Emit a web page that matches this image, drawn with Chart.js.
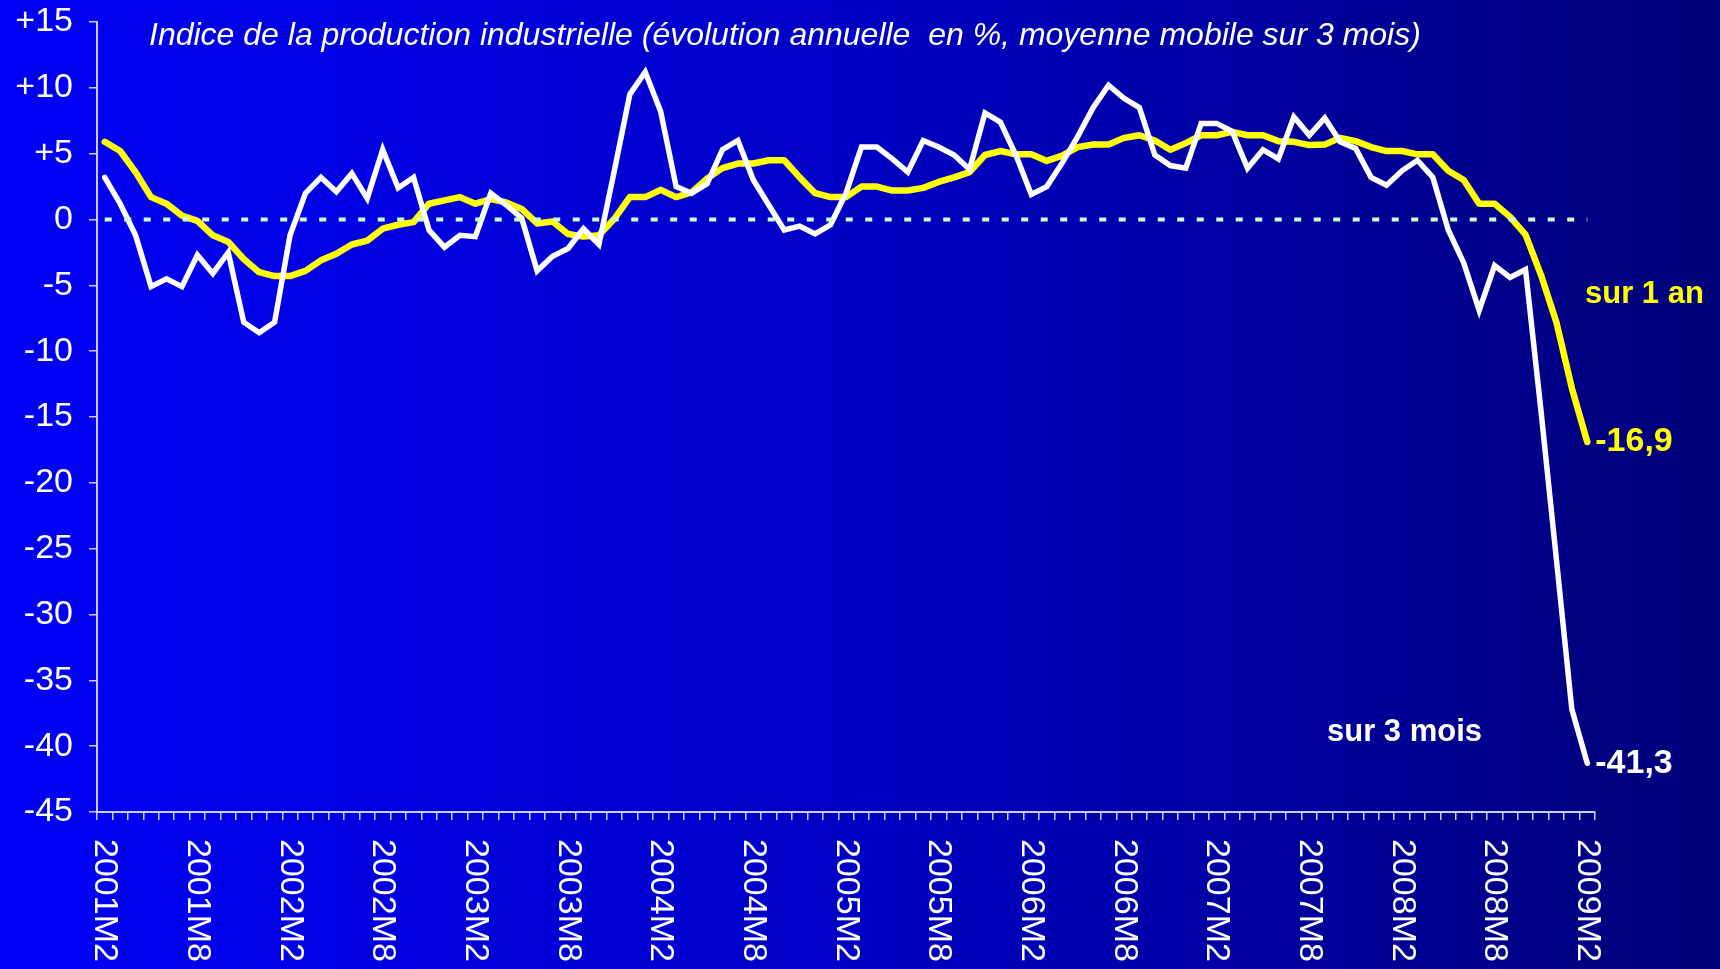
<!DOCTYPE html>
<html>
<head>
<meta charset="utf-8">
<script src="https://cdn.jsdelivr.net/npm/chart.js@4.4.1/dist/chart.umd.min.js"></script>
<style>
  html, body { margin: 0; padding: 0; background: #00007a; }
  #wrap { width: 1720px; height: 969px; }
</style>
</head>
<body>
<div id="wrap"><canvas id="prodChart"></canvas></div>
<script>
var months = [
  '2001M2','2001M3','2001M4','2001M5','2001M6','2001M7','2001M8','2001M9','2001M10','2001M11','2001M12',
  '2002M1','2002M2','2002M3','2002M4','2002M5','2002M6','2002M7','2002M8','2002M9','2002M10','2002M11','2002M12',
  '2003M1','2003M2','2003M3','2003M4','2003M5','2003M6','2003M7','2003M8','2003M9','2003M10','2003M11','2003M12',
  '2004M1','2004M2','2004M3','2004M4','2004M5','2004M6','2004M7','2004M8','2004M9','2004M10','2004M11','2004M12',
  '2005M1','2005M2','2005M3','2005M4','2005M5','2005M6','2005M7','2005M8','2005M9','2005M10','2005M11','2005M12',
  '2006M1','2006M2','2006M3','2006M4','2006M5','2006M6','2006M7','2006M8','2006M9','2006M10','2006M11','2006M12',
  '2007M1','2007M2','2007M3','2007M4','2007M5','2007M6','2007M7','2007M8','2007M9','2007M10','2007M11','2007M12',
  '2008M1','2008M2','2008M3','2008M4','2008M5','2008M6','2008M7','2008M8','2008M9','2008M10','2008M11','2008M12',
  '2009M1','2009M2'
];

// moyenne mobile sur 3 mois, glissement sur 3 mois (ligne blanche)
var sur3Mois = [
  3.2, 1.2, -1.2, -5.1, -4.5, -5.1, -2.7, -4.1, -2.5, -7.8, -8.6,
  -7.8, -1.2, 2.0, 3.2, 2.1, 3.5, 1.6, 5.3, 2.4, 3.2, -0.8, -2.1,
  -1.2, -1.3, 2.0, 1.1, 0.1, -3.9, -2.8, -2.2, -0.7, -1.9, 3.7, 9.5,
  11.2, 8.2, 2.5, 2.0, 2.7, 5.3, 6.0, 3.0, 1.1, -0.8, -0.5, -1.1,
  -0.4, 2.0, 5.5, 5.5, 4.6, 3.6, 6.0, 5.5, 4.9, 3.8, 8.1, 7.4,
  4.9, 1.9, 2.5, 4.3, 6.3, 8.5, 10.2, 9.2, 8.5, 4.9, 4.1, 3.9,
  7.3, 7.3, 6.7, 3.9, 5.3, 4.6, 7.8, 6.4, 7.7, 5.9, 5.4, 3.2,
  2.6, 3.7, 4.5, 3.2, -0.8, -3.3, -6.9, -3.5, -4.4, -3.8, -14.5, -25.8,
  -37.2, -41.3
];

// glissement annuel (ligne jaune)
var sur1An = [
  5.9, 5.2, 3.6, 1.7, 1.2, 0.3, -0.1, -1.2, -1.7, -3.0, -4.0,
  -4.3, -4.3, -3.9, -3.1, -2.6, -1.9, -1.6, -0.7, -0.4, -0.2, 1.2, 1.45,
  1.7, 1.2, 1.55, 1.3, 0.8, -0.3, -0.15, -1.1, -1.3, -1.2, 0.05, 1.7,
  1.7, 2.25, 1.7, 2.05, 3.1, 3.9, 4.25, 4.25, 4.5, 4.5, 3.2, 2.0,
  1.7, 1.7, 2.5, 2.5, 2.2, 2.2, 2.4, 2.85, 3.2, 3.6, 4.9, 5.2,
  4.95, 4.95, 4.45, 4.85, 5.5, 5.7, 5.7, 6.2, 6.4, 6.0, 5.3, 5.8,
  6.4, 6.4, 6.65, 6.4, 6.4, 5.95, 5.9, 5.65, 5.7, 6.2, 5.95, 5.5,
  5.2, 5.2, 4.95, 4.95, 3.7, 3.0, 1.2, 1.2, 0.2, -1.15, -4.2, -7.8,
  -12.8, -16.9
];

var yTicks = { min: -45, max: 15, step: 5 };
var titleText = 'Indice de la production industrielle (évolution annuelle  en %, moyenne mobile sur 3 mois)';
var fontFamily = '"Liberation Sans", Arial, sans-serif';
var axisColor = 'rgba(215,215,255,0.95)';

function fmt(v) {
  return v.toFixed(1).replace('.', ',');
}

var decorPlugin = {
  id: 'decor',
  beforeDraw: function (chart) {
    var ctx = chart.ctx;
    var g = ctx.createLinearGradient(0, 0, chart.width, 0);
    g.addColorStop(0, '#0000f8');
    g.addColorStop(0.5, '#0000c4');
    g.addColorStop(1, '#000078');
    ctx.save();
    ctx.fillStyle = g;
    ctx.fillRect(0, 0, chart.width, chart.height);
    ctx.restore();
  },
  afterDatasetsDraw: function (chart) {
    // ligne du zéro en pointillés
    var ctx = chart.ctx;
    var xs = chart.scales.x, ys = chart.scales.y;
    var y0 = ys.getPixelForValue(0);
    ctx.save();
    ctx.strokeStyle = '#ccffcc';
    ctx.lineWidth = 4;
    ctx.setLineDash([7, 12.5]);
    ctx.beginPath();
    ctx.moveTo(xs.getPixelForValue(0), y0);
    ctx.lineTo(xs.getPixelForValue(months.length - 1), y0);
    ctx.stroke();
    ctx.restore();
  },
  afterDraw: function (chart) {
    var ctx = chart.ctx;
    var xs = chart.scales.x, ys = chart.scales.y;
    var last = months.length - 1;
    ctx.save();

    // titre
    ctx.fillStyle = '#ffffff';
    ctx.font = 'italic 32px ' + fontFamily;
    ctx.textAlign = 'left';
    ctx.textBaseline = 'middle';
    ctx.fillText(titleText, 149, 36);

    // étiquettes de l'axe des x, tournées vers le bas
    ctx.font = '34px ' + fontFamily;
    for (var i = 0; i < months.length; i += 6) {
      ctx.save();
      ctx.translate(xs.getPixelForValue(i), xs.bottom + 19);
      ctx.rotate(Math.PI / 2);
      ctx.textAlign = 'left';
      ctx.textBaseline = 'middle';
      ctx.fillText(months[i], 0, 0);
      ctx.restore();
    }

    // dernières valeurs
    ctx.font = 'bold 34px ' + fontFamily;
    ctx.textAlign = 'left';
    ctx.textBaseline = 'middle';
    ctx.fillStyle = '#ffff00';
    ctx.fillText(fmt(sur1An[last]), xs.getPixelForValue(last) + 8, ys.getPixelForValue(sur1An[last]));
    ctx.fillStyle = '#ffffff';
    ctx.fillText(fmt(sur3Mois[last]), xs.getPixelForValue(last) + 8, ys.getPixelForValue(sur3Mois[last]));

    // noms des séries
    ctx.font = 'bold 31px ' + fontFamily;
    ctx.fillStyle = '#ffff00';
    ctx.fillText('sur 1 an', 1585, 294);
    ctx.fillStyle = '#ffffff';
    ctx.fillText('sur 3 mois', 1327, 732);
    ctx.restore();
  }
};

var ctx = document.getElementById('prodChart').getContext('2d');

var prodChart = new Chart(ctx, {
  type: 'line',
  data: {
    labels: months,
    datasets: [
      {
        label: 'sur 1 an',
        data: sur1An,
        borderColor: '#ffff00',
        borderWidth: 6.5,
        borderCapStyle: 'round',
        borderJoinStyle: 'round',
        pointRadius: 0,
        tension: 0,
        order: 2
      },
      {
        label: 'sur 3 mois',
        data: sur3Mois,
        borderColor: '#ffffff',
        borderWidth: 5.5,
        borderCapStyle: 'round',
        pointRadius: 0,
        tension: 0,
        order: 1
      }
    ]
  },
  options: {
    responsive: true,
    maintainAspectRatio: false,
    animation: false,
    layout: {
      padding: { top: 22, right: 125, bottom: 149, left: 0 }
    },
    plugins: {
      legend: { display: false },
      tooltip: { enabled: false },
      title: { display: false }
    },
    scales: {
      x: {
        offset: true,
        ticks: { display: false },
        grid: {
          offset: true,
          drawOnChartArea: false,
          drawTicks: true,
          tickLength: 8,
          color: axisColor,
          lineWidth: 1.5
        },
        border: { color: axisColor, width: 2 },
        afterFit: function (scale) { scale.height = 8; }
      },
      y: {
        min: yTicks.min,
        max: yTicks.max,
        ticks: {
          stepSize: yTicks.step,
          color: '#ffffff',
          padding: 16,
          font: { family: fontFamily, size: 34 },
          callback: function (v) { return v > 0 ? '+' + v : String(v); }
        },
        grid: {
          drawOnChartArea: false,
          drawTicks: true,
          tickLength: 8,
          color: axisColor,
          lineWidth: 1.5
        },
        border: { color: axisColor, width: 2 },
        afterFit: function (scale) {
          scale.width = 97;
          scale.paddingTop = 0;
          scale.paddingBottom = 0;
        }
      }
    }
  },
  plugins: [decorPlugin]
});
</script>
</body>
</html>
